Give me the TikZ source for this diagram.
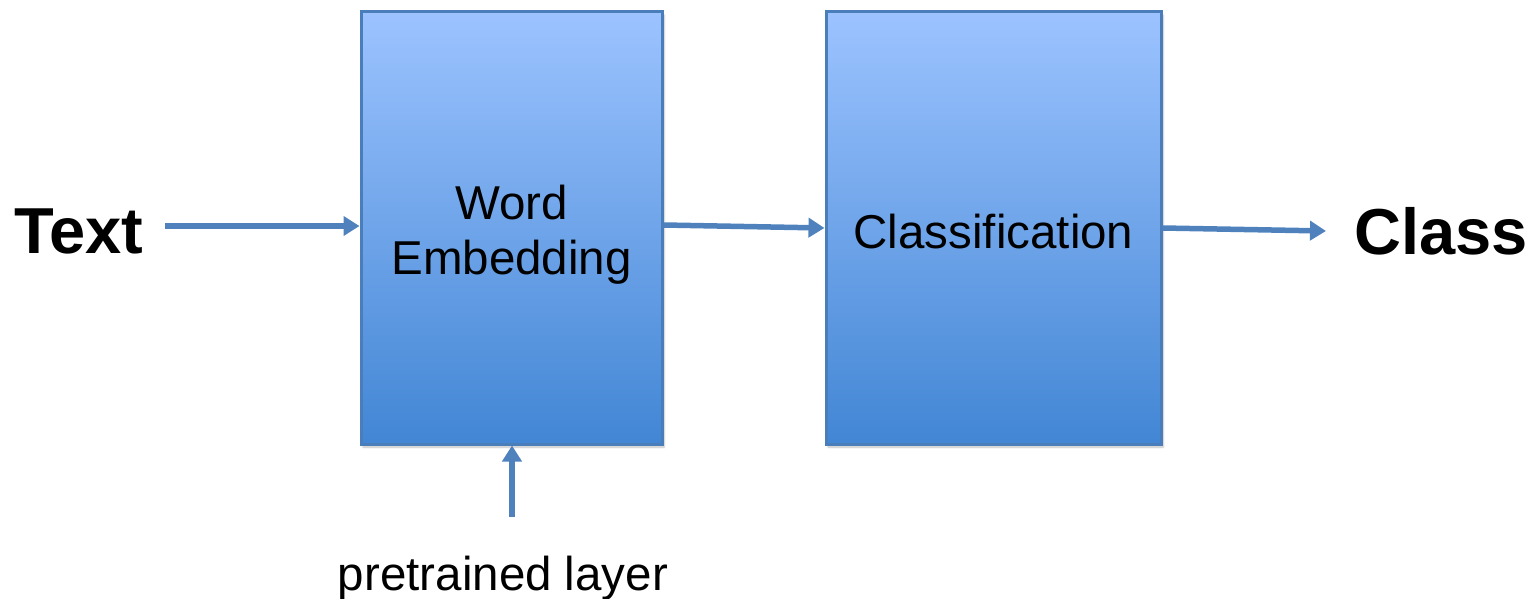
\documentclass[tikz,border=0pt]{standalone}
\usepackage{fontspec}
\setmainfont{Liberation Sans}
\usetikzlibrary{arrows.meta,shadows.blur}
\definecolor{boxtop}{RGB}{156,195,255}
\definecolor{boxbot}{RGB}{66,134,212}
\definecolor{boxedge}{RGB}{74,126,187}
\definecolor{arrowblue}{RGB}{79,129,189}
\tikzset{
  block/.style={draw=boxedge, line width=3pt, top color=boxtop, bottom color=boxbot,
    blur shadow={shadow xshift=2pt, shadow yshift=-3pt, shadow blur steps=6, shadow opacity=25},
    inner sep=0pt},
  flow/.style={draw=arrowblue, line width=5.5pt,
    -{Triangle[length=16pt,width=19pt]}},
  label/.style={font=\fontsize{47.5}{56}\selectfont, align=center, inner sep=0pt},
  term/.style={font=\fontsize{65}{72}\selectfont\bfseries, inner sep=0pt},
}
\begin{document}
\begin{tikzpicture}[x=1pt,y=-1pt]
  \useasboundingbox (0,0) rectangle (1536,599);
  % the two processing stages
  \node[block, minimum width=301pt, minimum height=432pt] (embed) at (511.5,228) {};
  \node[block, minimum width=335pt, minimum height=432pt] (classify) at (993.5,228) {};
  \node[label] (embedtxt) at (511.5,235) {Word\\[-1pt]Embedding};
  \node[label] (classtxt) at (993.5,232) {Classification};
  % input, output and side input
  \node[term, anchor=west] (text) at (14,231) {Text};
  \node[term, anchor=east] (class) at (1528,231) {Class};
  \node[label] (pre) at (503,578) {pretrained layer};
  \coordinate (tstart) at (165,226);
  \coordinate (cend) at (1326,231);
  \coordinate (pstart) at (512,517);
  % connectors
  \draw[flow] (tstart) -- (tstart -| embed.west);
  \draw[flow] (embed.east |- 0,225) -- (classify.west |- 0,228);
  \draw[flow] (classify.east |- 0,228) -- (cend);
  \draw[flow] (pstart) -- (pstart |- embed.south);
\end{tikzpicture}
\end{document}
